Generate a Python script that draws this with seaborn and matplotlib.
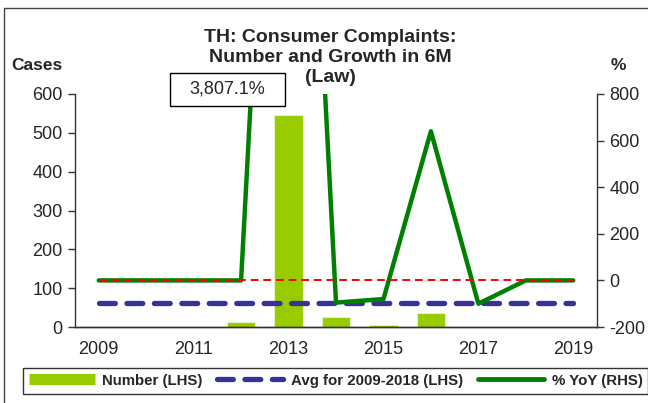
import numpy as np
import pandas as pd
import matplotlib.pyplot as plt
import seaborn as sns
from matplotlib.lines import Line2D
from matplotlib.patches import Rectangle

# data
years = [2009, 2010, 2011, 2012, 2013, 2014, 2015, 2016, 2017, 2018, 2019]
cases = [0, 0, 0, 14, 547, 25, 5, 37, 0, 0, 0]
yoy = [0, 0, 0, 0, 3807.1, -95.4, -80.0, 640.0, -100.0, 0, 0]
left_ticks = [0, 100, 200, 300, 400, 500, 600]
right_ticks = [-200, 0, 200, 400, 600, 800]
title_lines = ['TH: Consumer Complaints:', 'Number and Growth in 6M', '(Law)']

df = pd.DataFrame({'year': years, 'cases': cases, 'yoy': yoy})
df['pos'] = np.arange(len(df))
avg = df.loc[df['year'] <= 2018, 'cases'].mean()
df['avg'] = avg

sns.set_style('white')
plt.rcParams['font.family'] = ['Liberation Sans', 'DejaVu Sans']
plt.rcParams['axes.unicode_minus'] = False

W, H = 648, 403
fig = plt.figure(figsize=(W / 100, H / 100), dpi=100)
ax = fig.add_axes([75 / W, 1 - 327 / H, (597 - 75) / W, (327 - 94) / H])

c_bar = '#99CC00'
c_line = '#008000'
c_avg = '#333399'
tick_fs = 13

sns.barplot(data=df, x='year', y='cases', color=c_bar, saturation=1, width=0.6,
            edgecolor='#e6f2c8', linewidth=0.8, ax=ax, zorder=2)
sns.lineplot(data=df, x='pos', y='avg', color=c_avg, lw=3.8, ax=ax, zorder=3,
             dashes=False)
ax.lines[-1].set_dashes([3, 2.2])
ax.lines[-1].set_dash_capstyle('round')

ax2 = ax.twinx()
sns.lineplot(data=df, x='pos', y='yoy', color=c_line, lw=3.2, ax=ax2, zorder=3)
ax2.hlines(0, df['pos'].min(), df['pos'].max(), colors='#FF0000', lw=1.4,
           linestyles=(0, (4, 2.5)), zorder=4)

for a in (ax, ax2):
    a.set_xlim(-0.5, len(df) - 0.5)
    a.spines['top'].set_visible(False)
    for s in a.spines.values():
        s.set_color('#333333')
        s.set_linewidth(1)
    a.set_xlabel('')
    a.set_ylabel('')

ax.set_ylim(0, 600)
ax.set_yticks(left_ticks)
ax2.set_ylim(-200, 800)
ax2.set_yticks(right_ticks)
ax.spines['right'].set_visible(False)
ax2.spines['left'].set_visible(False)

ax.set_xticks(df['pos'])
ax.set_xticklabels([str(y) if i % 2 == 0 else '' for i, y in enumerate(years)])
ax.set_xticks(np.arange(-0.5, len(df), 1), minor=True)
ax.tick_params(axis='x', which='major', length=0, labelsize=tick_fs, pad=10)
ax.tick_params(axis='x', which='minor', length=5, width=1, color='#333333', direction='out')
ax.tick_params(axis='y', length=5, width=1, color='#333333', labelsize=tick_fs, pad=4, left=True)
ax2.tick_params(axis='y', length=5, width=1, color='#333333', labelsize=tick_fs, pad=4, right=True)
ax.grid(False)
ax2.grid(False)

# title, one text per line
for i, line in enumerate(title_lines):
    fig.text(330 / W, 1 - (38 + i * 19.5) / H, line, ha='center', va='center',
             fontsize=14, fontweight='bold')
fig.text(11 / W, 1 - 65 / H, 'Cases', ha='left', va='center', fontsize=12.5, fontweight='bold')
fig.text(611 / W, 1 - 65 / H, '%', ha='left', va='center', fontsize=12.5, fontweight='bold')

# value label for the off-scale point
fig.patches.append(Rectangle((170 / W, 1 - 106 / H), 115 / W, 33 / H, transform=fig.transFigure,
                             facecolor='white', edgecolor='black', lw=1, zorder=10))
peak = df.loc[df['yoy'].idxmax(), 'yoy']
fig.text(227.5 / W, 1 - 89.5 / H, f'{peak:,.1f}%', ha='center', va='center', fontsize=13, zorder=11)

handles = [Line2D([], [], color=c_bar, lw=8, solid_capstyle='butt'),
           Line2D([], [], color=c_avg, lw=3.8, dashes=[3, 2.2], dash_capstyle='round'),
           Line2D([], [], color=c_line, lw=3.5)]
labels = ['Number (LHS)', 'Avg for 2009-2018 (LHS)', '% YoY (RHS)']
leg = fig.legend(handles, labels, loc='center', bbox_to_anchor=(335.5 / W, 1 - 380.5 / H),
                 ncol=3, frameon=True, fancybox=False, edgecolor='black', handlelength=4.4,
                 handletextpad=0.5, columnspacing=1.0, borderpad=0.4,
                 prop={'weight': 'bold', 'size': 10.8})
leg.get_frame().set_linewidth(1)

fig.patches.append(Rectangle((4 / W, -0.1), 1.1, 1 - 8 / H + 0.1, transform=fig.transFigure,
                             facecolor='none', edgecolor='#444444', lw=1))

fig.savefig('out.png', dpi=100)
